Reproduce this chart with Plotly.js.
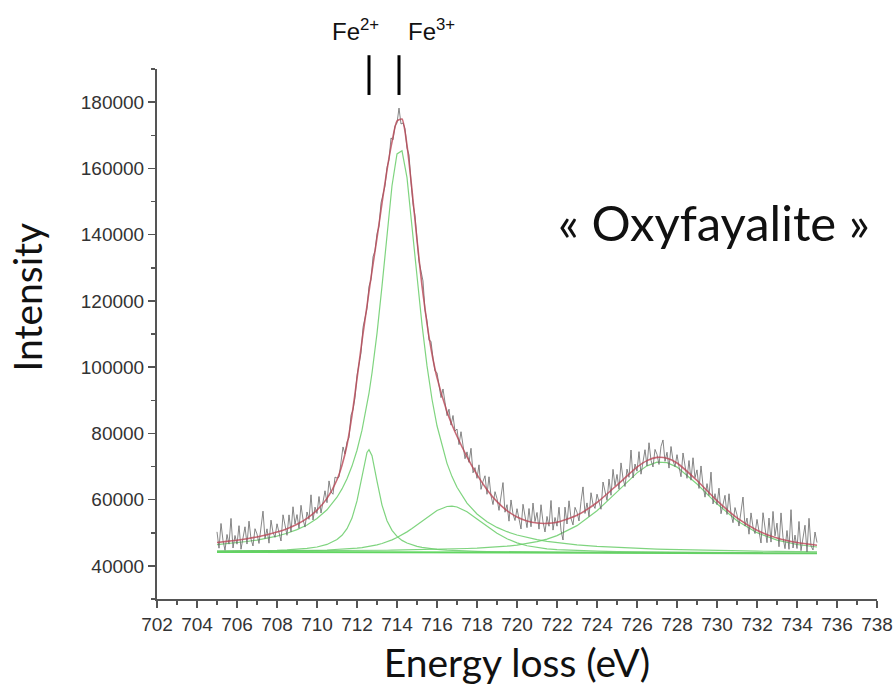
<!DOCTYPE html>
<html>
<head>
<meta charset="utf-8">
<script src="https://cdn.plot.ly/plotly-3.0.1.min.js"></script>
<style>html,body{margin:0;padding:0;background:#fff;}#chart{width:896px;height:695px;}</style>
</head>
<body>
<div id="chart"></div>
<script>
// ---- Data ----
// common energy grid (eV) for fitted curves
const fitEnergy = [705,705.5,706,706.5,707,707.5,708,708.5,709,709.5,710,710.5,
  711,711.25,711.5,711.75,712,712.25,712.5,712.6,712.75,713,713.25,713.5,713.75,
  714,714.25,714.5,714.75,715,715.25,715.5,715.75,716,716.5,716.75,717,717.5,
  718,718.5,719,719.5,720,720.5,721,721.5,722,723,724,725,726,726.5,727,727.5,
  728,729,730,731,732,733,734,735];

// background line
const backgroundEnergy = [705, 735];
const backgroundIntensity = [44200, 43800];

// Fe3+ component (main peak)
const fe3Component = [46435,46688,46991,47353,47791,48331,48999,49846,50936,52361,54283,56929,
  60719,63239,66335,70123,74915,80961,88626,92176,98223,110182,124459,140150,154751,
  164348,165301,157204,143225,127492,112819,100375,90297,82298,70955,66949,63724,58944,
  55662,53326,51614,50322,49328,48544,47919,47410,46990,46346,45881,45531,45263,45150,45050,44960,
  44879,44739,44621,44521,44435,44361,44295,44237];

// Fe2+ component
const fe2Component = [44392,44413,44442,44477,44525,44590,44678,44803,44985,45259,45700,46467,
  47942,49230,51221,54419,59607,67237,74262,75099,73273,65561,58349,53625,50715,
  48890,47697,46884,46310,45891,45574,45333,45142,44989,44764,44678,44606,44491,
  44405,44337,44283,44240,44202,44171,44144,44120,44099,44063,44033,44005,43982,43971,43961,43950,
  43940,43921,43904,43886,43870,43854,43837,43822];

// satellite component near 716.7 eV
const satComponent = [44399,44409,44423,44439,44459,44483,44511,44546,44589,44641,44708,44796,
  44912,44989,45080,45192,45333,45506,45723,45825,45995,46329,46741,47241,47837,
  48540,49351,50267,51281,52374,53514,54662,55755,56720,57929,58036,57778,56333,
  54171,51881,49827,48171,46941,46085,45517,45145,44899,44608,44436,44317,44229,44193,44161,44132,
  44106,44060,44022,43987,43958,43931,43905,43883];

// L2 edge component near 727 eV
const l2Component = [44447,44451,44457,44463,44470,44479,44488,44498,44511,44524,44539,44557,
  44576,44587,44597,44610,44623,44635,44650,44656,44665,44681,44698,44716,44735,
  44755,44777,44800,44825,44851,44878,44908,44940,44973,45049,45090,45135,45243,
  45369,45522,45713,45962,46288,46722,47308,48089,49121,52140,56627,62347,68080,70195,71304,71169,
  69819,64704,58734,53657,50034,47761,46443,45699];

// total fit (red curve)
const fitTotal = [47073,47382,47752,48192,48726,49382,50196,51234,52580,54365,56831,60368,
  66000,70400,76500,85400,96500,107900,118500,122800,129000,139000,149500,159500,168000,
  174300,174895,166936,153431,138407,124596,113098,103963,96821,86556,82624,79123,72912,
  67526,63006,59398,56674,54759,53543,52927,52824,53190,55277,59136,64401,69794,71770,72755,72511,
  71065,65784,59680,54492,50777,48426,47041,46241];

// measured spectrum, from 705 eV in steps of 0.1 eV (one row = 1 eV)
const spectrumStart = 705;
const spectrumStep = 0.1;
const spectrumIntensity = [
  50270,45340,52800,47660,44720,49480,46560,54330,45400,49180,
  46550,52140,45030,48820,51800,46590,53500,48110,46010,51220,
  49630,46760,52390,56520,48250,51180,46850,53810,50070,48630,
  52700,49800,47510,55420,52230,49230,55400,50270,57840,52610,
  55480,51340,58290,54050,51710,56270,54060,61450,53850,57740,
  55830,60940,55950,59550,62660,59070,65650,62340,61620,66810,
  66500,66800,71400,75900,73800,77400,78700,85500,87100,90800,
  97500,100800,104300,112000,115000,117700,124400,126400,133300,135100,
  140300,142500,149600,151800,154700,160300,162600,169200,168600,172800,
  173690,178200,173400,173700,172000,166140,164100,155900,149200,145700,
  138910,131900,129000,126000,117200,114000,108100,107800,102600,98800,
  98320,94300,90800,93400,89300,85360,87300,82500,85400,80700,
  81320,76600,80500,75700,72350,74410,71240,75500,68100,69660,
  66430,70500,63100,65500,67200,61610,66900,61200,58500,62400,
  60300,56750,61700,65150,56200,58470,53500,59900,55650,53700,
  57260,53900,51150,58600,54990,51540,57320,51800,58970,53350,
  56130,51100,58460,53250,50240,54920,51970,59740,50800,54600,
  51990,57700,50710,47820,57730,52640,59640,54350,52360,57670,
  56180,53560,59450,63840,55820,59010,54890,62080,58560,57350,
  61640,59060,57090,65320,62440,59770,66200,61320,69150,64180,
  67600,63140,71080,66420,63960,69200,66740,74980,66520,70750,
  68590,74490,67680,71780,75070,70170,77170,71860,69860,75160,
  73660,70610,76060,78010,71560,74310,69520,76030,71840,69950,
  73570,69940,66910,74080,70150,66430,71800,65870,72640,66610,
  68980,63370,70160,64350,60740,64830,61220,68310,58700,61790,
  58480,63460,55740,58920,61300,55490,61770,55750,53030,57610,
  55390,52020,57150,60780,52010,54430,49560,55990,51720,49750,
  54030,49760,46900,56050,51400,47000,54440,47180,56440,49050,
  52910,45770,55990,48570,45200,50670,45000,56970,45400,49280,
  45240,53410,44600,48000,52270,44240,54360,46030,44800,50220,
  47040];

// peak marker positions and labels
const markerEnergy = [712.6, 714.1];
const markerLabels = ['Fe<sup>2+</sup>', 'Fe<sup>3+</sup>'];
const markerLabelEnergy = [711.9, 715.7];
const sampleName = '« Oxyfayalite »';

// ---- Plot ----
const green = 'rgba(105,205,105,0.85)';
const traces = [
  {x: backgroundEnergy, y: backgroundIntensity, mode: 'lines', line: {color: 'rgba(80,210,80,0.9)', width: 2}, hoverinfo: 'skip'},
  {x: fitEnergy, y: l2Component, mode: 'lines', line: {color: green, width: 1.2}},
  {x: fitEnergy, y: satComponent, mode: 'lines', line: {color: green, width: 1.2}},
  {x: fitEnergy, y: fe2Component, mode: 'lines', line: {color: green, width: 1.2}},
  {x: fitEnergy, y: fe3Component, mode: 'lines', line: {color: green, width: 1.2}},
  {x0: spectrumStart, dx: spectrumStep, y: spectrumIntensity, mode: 'lines', line: {color: 'rgba(105,105,105,0.8)', width: 1}},
  {x: fitEnergy, y: fitTotal, mode: 'lines', line: {color: 'rgba(185,70,85,0.8)', width: 1.6, shape: 'spline', smoothing: 0.6}}
];

const shapes = markerEnergy.map(e => ({
  type: 'line', xref: 'x', yref: 'paper', x0: e, x1: e, y0: 0.951, y1: 1.026,
  line: {color: '#000', width: 3}
}));

const annotations = markerLabels.map((t, i) => ({
  text: t, x: markerLabelEnergy[i], xref: 'x', y: 1.0736, yref: 'paper',
  xanchor: 'center', yanchor: 'middle',
  showarrow: false, font: {family: 'Liberation Sans, Arial', size: 24, color: '#111'}
}));
annotations.push({
  text: sampleName, x: 729.85, xref: 'x', y: 0.711, yref: 'paper',
  xanchor: 'center', yanchor: 'middle', showarrow: false,
  font: {family: 'Lato, Open Sans, sans-serif', size: 49, color: '#111'}
});
// y-axis title, placed where the reference has it
annotations.push({
  text: 'Intensity', xref: 'paper', yref: 'paper', x: -0.181, y: 0.57,
  xanchor: 'center', yanchor: 'middle', textangle: -90, showarrow: false,
  font: {family: 'Lato, Open Sans, sans-serif', size: 39, color: '#111'}
});

const axisCommon = {
  showgrid: false, zeroline: false, showline: true, linecolor: '#555', linewidth: 2,
  ticks: 'outside', ticklen: 7, tickwidth: 1.5, tickcolor: '#555',
  tickfont: {family: 'Liberation Sans, Arial', size: 19, color: '#333'}
};

const layout = {
  width: 896, height: 695,
  margin: {l: 157, r: 19, t: 69, b: 96},
  paper_bgcolor: '#fff', plot_bgcolor: '#fff',
  showlegend: false,
  xaxis: Object.assign({}, axisCommon, {
    range: [702, 738], tick0: 702, dtick: 2,
    minor: {dtick: 1, ticks: 'outside', ticklen: 4, tickwidth: 1.5, tickcolor: '#555'},
    title: {text: 'Energy loss (eV)', standoff: 16, font: {family: 'Lato, Open Sans, sans-serif', size: 39, color: '#111'}}
  }),
  yaxis: Object.assign({}, axisCommon, {
    range: [30000, 190000], tick0: 0, dtick: 20000, tickformat: 'd',
    minor: {dtick: 10000, ticks: 'outside', ticklen: 4, tickwidth: 1.5, tickcolor: '#555'}
  }),
  shapes: shapes,
  annotations: annotations
};

Plotly.newPlot('chart', traces, layout, {staticPlot: true, displayModeBar: false});
</script>
</body>
</html>
